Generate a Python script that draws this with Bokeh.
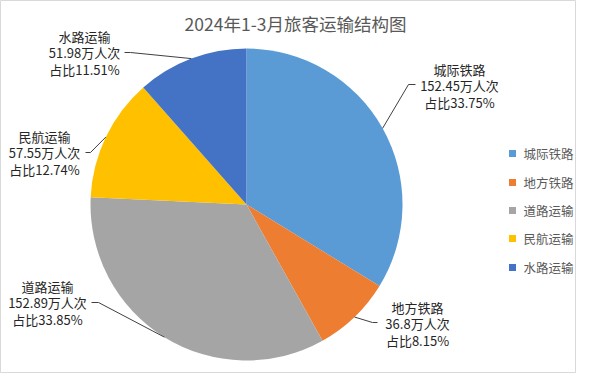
import math
from bokeh.plotting import figure
from bokeh.models import Range1d, ColumnDataSource
from bokeh.embed import file_html
from bokeh.resources import INLINE
from bokeh.core.properties import value

# ---------------- data ----------------
chart_title = "2024年1-3月旅客运输结构图"
categories = ["城际铁路", "地方铁路", "道路运输", "民航运输", "水路运输"]
volumes = [152.45, 36.8, 152.89, 57.55, 51.98]      # 万人次
shares = [33.75, 8.15, 33.85, 12.74, 11.51]         # 占比 %
colors = ["#5B9BD5", "#ED7D31", "#A5A5A5", "#FFC000", "#4472C4"]

# ---------------- layout (pixel space, y down) ----------------
W, H = 576, 373
FONT = "Noto Sans CJK SC"


def Y(py):
    return H - py


CX, CY, R = 246, Y(204), 156

label_cx = [459, 417, 47, 44, 84]
label_mid_py = [85, 323, 302, 152, 52]
elbow_px = [(408, 84), (372, 322), (98, 302), (90, 152), (130, 52)]
line_end_x = [415, 377, 91, 85, 124]
ROW = 16.5
legend_py = [153, 182, 210, 238, 267]
legend_sq_x = 512
legend_tx_x = 523

p = figure(width=W, height=H,
           x_range=Range1d(0, W), y_range=Range1d(0, H),
           output_backend="svg", toolbar_location=None,
           x_axis_location=None, y_axis_location=None,
           min_border=0)
p.grid.visible = False
p.outline_line_color = "#D9D9D9"
p.outline_line_width = 1
p.background_fill_color = "white"
p.border_fill_color = "white"

# ---------------- wedges ----------------
total = sum(shares)
starts, ends, mids = [], [], []
c = 0.0
for s in shares:
    c0 = c / total
    c += s
    c1 = c / total
    starts.append(math.pi / 2 - 2 * math.pi * c0)
    ends.append(math.pi / 2 - 2 * math.pi * c1)
    mids.append(2 * math.pi * (c0 + c1) / 2)

src = ColumnDataSource(dict(x=[CX] * len(shares), y=[CY] * len(shares),
                            start=starts, end=ends, color=colors))
p.wedge(x="x", y="y", radius=R, start_angle="start", end_angle="end",
        direction="clock", fill_color="color", line_color=None, source=src)

# ---------------- leader lines ----------------
xs, ys = [], []
for th, (ex, ey), hx in zip(mids, elbow_px, line_end_x):
    px = CX + R * math.sin(th)
    py = CY + R * math.cos(th)
    xs.append([px, ex, hx])
    ys.append([py, Y(ey), Y(ey)])
p.multi_line(xs, ys, line_color="#404040", line_width=1)

# ---------------- data labels ----------------
rows = [
    categories,
    [f"{v}万人次" for v in volumes],
    [f"占比{s}%" for s in shares],
]
for k, texts in enumerate(rows):
    yy = [Y(m + (k - 1) * ROW) for m in label_mid_py]
    p.text(x=label_cx, y=yy, text=texts, text_align="center",
           text_baseline="middle", text_font=value(FONT),
           text_font_size="13px", text_color="#262626")

# ---------------- title ----------------
p.text(x=[295], y=[Y(23)], text=[chart_title], text_align="center",
       text_baseline="middle", text_font=value(FONT),
       text_font_size="17.5px", text_color="#595959")

# ---------------- legend ----------------
p.scatter(x=[legend_sq_x] * len(categories), y=[Y(v) for v in legend_py],
          marker="square", size=7, fill_color=colors, line_color=None)
p.text(x=[legend_tx_x] * len(categories), y=[Y(v) for v in legend_py],
       text=categories, text_align="left", text_baseline="middle",
       text_font=value(FONT), text_font_size="12.5px", text_color="#595959")

open("out.html", "w").write(file_html(p, INLINE))
